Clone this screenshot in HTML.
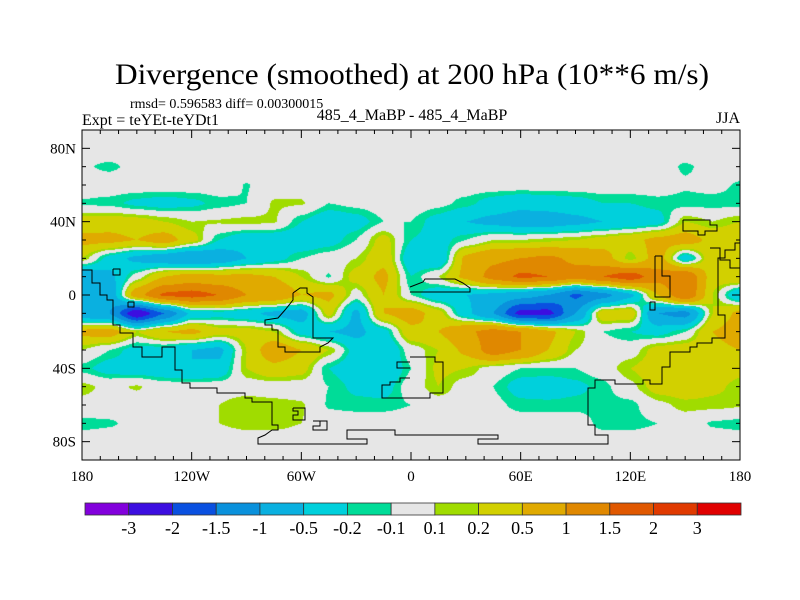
<!DOCTYPE html>
<html><head><meta charset="utf-8">
<style>
html,body{margin:0;padding:0;background:#fff;}
#wrap{position:relative;width:800px;height:600px;overflow:hidden;background:#fff;}
#field{position:absolute;left:82px;top:130px;}
#ov{position:absolute;left:0;top:0;}
text{font-family:"Liberation Serif",serif;fill:#000;}
</style></head>
<body>
<div id="wrap">
<canvas id="field" width="658" height="330"></canvas>
<svg id="ov" width="800" height="600">
<text x="412" y="84" text-anchor="middle" font-size="30" textLength="594" lengthAdjust="spacingAndGlyphs">Divergence (smoothed) at 200 hPa (10**6 m/s)</text>
<text x="130" y="108" font-size="14">rmsd= 0.596583 diff= 0.00300015</text>
<text x="82" y="125" font-size="16">Expt = teYEt-teYDt1</text>
<text x="412" y="120" text-anchor="middle" font-size="16">485_4_MaBP - 485_4_MaBP</text>
<text x="740" y="123" text-anchor="end" font-size="16">JJA</text>
<g id="coast" fill="none" stroke="#000" stroke-width="1"></g>
<g id="axes"></g>
<g id="cbar"></g>
</svg>
</div>
<script>
const lons=[-180,-165,-150,-135,-120,-105,-90,-75,-60,-45,-30,-15,0,15,30,45,60,75,90,105,120,135,150,165,180];
const lats=[90,80,70,60,50,40,30,20,10,0,-10,-20,-30,-40,-50,-60,-70,-80,-90];
const r90=[0,0,0,0,0,0,0,0,0,0,0,0,0,0,0,0,0,0,0,0,0,0,0,0,0];
const r80=[0,0,0,0,0,0,0,0,0,0,0,0,0,0,0,0,0,0,0,0,0,0,0,0,0];
const r70=[-0.08,-0.13,-0.05,0,0,0,0,0,0,0,0,0,0,0,0,0,0,0,0,0,0,-0.03,-0.12,-0.05,0];
const r60=[0,0,0,0,0,0,-0.11,0,0,0,0,0,0,0,0,0,0,0,0,0,0,0,-0.08,-0.05,-0.12];
const r50=[-0.12,-0.15,-0.25,-0.3,-0.25,-0.15,-0.1,0.12,0.12,-0.1,-0.05,0,0,-0.05,-0.15,-0.3,-0.4,-0.35,-0.3,-0.2,-0.2,-0.15,-0.15,-0.15,-0.15];
const r40=[0.3,0.35,0.3,0.2,0.1,0.12,0.15,0.12,-0.2,-0.4,-0.3,-0.1,-0.1,-0.3,-0.5,-0.6,-0.7,-0.7,-0.6,-0.5,-0.4,-0.3,0.2,0.1,0.2];
const r30=[0.6,0.6,0.5,0.7,0.3,-0.2,-0.4,-0.4,-0.4,-0.3,-0.1,0.3,-0.2,-0.3,-0.1,0.1,0.1,0.15,0.2,0.3,0.4,0.6,0.7,0.4,0.5];
const r20=[0.2,-0.3,-0.6,-0.8,-1.0,-0.8,-0.5,-0.3,-0.1,0,0.1,0.4,-0.4,-0.5,0.6,0.9,1.0,1.1,0.9,0.7,0.1,0.7,-0.4,0.4,0.3];
const r10=[-0.8,-0.6,0,0.5,0.7,0.6,0.6,0.5,0.2,-0.12,0.3,0.6,-0.2,0.1,0.6,1.2,1.6,1.5,1.2,1.5,1.8,1.2,1.5,0.3,0.5];
const r0=[-1.0,-0.8,0.8,1.6,1.7,1.5,1.0,0.9,0.5,0.6,0,0.5,-0.1,-0.4,-0.5,-0.6,-0.8,-1.0,-1.6,-1.2,-0.6,0.5,1.5,0.2,-0.5];
const rS10=[-0.8,-1.0,-2.5,-1.5,-0.4,-0.3,-0.4,-0.6,-0.7,0.3,-0.6,0.5,0.7,0.3,-0.4,-1.0,-2.2,-2.2,-1.0,0.4,0.4,-1.0,-1.2,0.2,0.6];
const rS20=[0.6,0.7,0.2,0.5,0.6,0.3,0.3,0.2,-0.3,-0.5,-0.6,-0.3,0.4,0.5,0.9,1.2,1.0,0.6,0.2,-0.1,-0.2,-0.3,-0.1,0.5,0.7];
const rS30=[0.1,-0.1,-0.3,-0.3,-0.5,-0.6,0.2,0.8,0.5,0.2,-0.3,-0.5,0,0.2,0.6,1.3,1.0,0.5,0.1,0,0,0.3,0.35,0.4,0.5];
const rS40=[-0.15,-0.3,-0.35,-0.4,-0.5,-0.4,0.2,0.4,0.3,-0.2,-0.4,-0.5,-0.1,0.25,0.2,0,-0.1,-0.1,-0.1,0,0.2,0.35,0.4,0.35,0.25];
const rS50=[0.15,0.05,0.12,0,0,0,0,0,0,-0.1,-0.25,-0.3,0,0.2,0,-0.1,-0.3,-0.35,-0.25,-0.15,0.05,0.3,0.35,0.25,0.15];
const rS60=[0.05,0,0,0,0,0.1,0.2,0.15,0.12,-0.12,-0.15,-0.15,-0.1,0,0,-0.05,-0.15,-0.15,-0.15,-0.15,-0.15,0.05,0.15,0.15,0.12];
const rS70=[-0.15,-0.12,-0.05,0,0,0.1,0.15,0.15,0.1,0,0,0,0,0,0,0,0,0,0,-0.15,-0.15,-0.1,0,-0.12,-0.15];
const rS80=[0,0,0,0,0,0,0,0,0,0,0,0,0,0,0,0,0,0,0,0,0,0,0,0,0];
const rS90=[0,0,0,0,0,0,0,0,0,0,0,0,0,0,0,0,0,0,0,0,0,0,0,0,0];
const divergence=[r90,r80,r70,r60,r50,r40,r30,r20,r10,r0,rS10,rS20,rS30,rS40,rS50,rS60,rS70,rS80,rS90];
const levels=[-3,-2,-1.5,-1,-0.5,-0.2,-0.1,0.1,0.2,0.5,1,1.5,2,3];
const levelLabels=["-3","-2","-1.5","-1","-0.5","-0.2","-0.1","0.1","0.2","0.5","1","1.5","2","3"];
const colors=["#8200dc","#3c0ee0","#0a50e0","#0a91dc","#0ab0e0","#00d0dc","#00dc98","#e6e6e6","#a0dc00","#d2d000","#e0aa00","#e08800","#e05800","#e03a00","#e00000"];
const lonTicks=[-180,-120,-60,0,60,120,180];
const lonTickLabels=["180","120W","60W","0","60E","120E","180"];
const latTicks=[80,40,0,-40,-80];
const latTickLabels=["80N","40N","0","40S","80S"];

const PX0=82,PX1=740,PY0=130,PY1=460;
const xOf=lon=>PX0+(lon+180)/360*(PX1-PX0);
const yOf=lat=>PY0+(90-lat)/180*(PY1-PY0);
const NS="http://www.w3.org/2000/svg";
function mk(tag,attrs,parent){const e=document.createElementNS(NS,tag);for(const k in attrs)e.setAttribute(k,attrs[k]);parent.appendChild(e);return e;}

(function(){
 const cv=document.getElementById('field');const ctx=cv.getContext('2d');
 const W=cv.width,H=cv.height;const img=ctx.createImageData(W,H);
 const rgb=colors.map(c=>[parseInt(c.substr(1,2),16),parseInt(c.substr(3,2),16),parseInt(c.substr(5,2),16)]);
 const nx=lons.length,ny=lats.length;
 const sm=t=>t*t*(3-2*t);
 for(let py=0;py<H;py++){
  const lat=90-(py+0.5)/H*180;
  let fy=(lats[0]-lat)/(lats[0]-lats[ny-1])*(ny-1);let iy=Math.min(ny-2,Math.floor(fy));let ty=fy-iy;ty=(ty+sm(ty))/2;
  for(let px=0;px<W;px++){
   const lon=-180+(px+0.5)/W*360;
   let fx=(lon-lons[0])/(lons[nx-1]-lons[0])*(nx-1);let ix=Math.min(nx-2,Math.floor(fx));let tx=fx-ix;tx=(tx+sm(tx))/2;
   const a=divergence[iy][ix],b=divergence[iy][ix+1],c=divergence[iy+1][ix],d=divergence[iy+1][ix+1];
   const v=(a*(1-tx)+b*tx)*(1-ty)+(c*(1-tx)+d*tx)*ty;
   let k=0;while(k<levels.length&&v>=levels[k])k++;
   const col=rgb[k];const o=(py*W+px)*4;
   img.data[o]=col[0];img.data[o+1]=col[1];img.data[o+2]=col[2];img.data[o+3]=255;
  }
 }
 ctx.putImageData(img,0,0);
})();

(function(){
 const g=document.getElementById('coast');
 const lines=[
 [[82,270],[92,270],[92,283],[100,283],[100,295],[107,295],[107,300],[113,300],[113,325],[120,325],[120,333],[133,333],[133,347],[142,347],[142,357],[162,357],[162,347],[175,347],[175,370],[182,370],[182,383],[190,383],[190,388],[217,388],[217,393],[245,393],[245,398],[252,398],[252,402],[272,402],[272,425],[278,425],[278,430],[272,430],[265,435],[258,438],[258,444],[367,444],[367,439],[347,439],[347,430],[395,430],[395,435],[498,435],[498,439],[478,439],[478,444],[608,444],[608,435],[595,435],[595,425],[588,425],[588,388],[595,388],[595,380],[615,380],[615,384],[643,384],[643,380],[650,380],[650,384],[662,384],[662,367],[670,367],[670,352],[690,352],[690,347],[697,347],[697,343],[712,343],[712,338],[725,338],[725,315],[718,315],[718,258],[725,258],[725,250],[735,250],[735,243],[740,243]],
 [[293,293],[300,288],[307,288],[307,293],[313,297],[313,300],[313,338],[333,338],[328,343],[320,347],[320,352],[285,352],[285,347],[278,347],[278,330],[272,330],[272,325],[265,325],[265,320],[278,318],[285,310],[293,300],[293,293]],
 [[410,287],[423,282],[425,279],[455,279],[463,283],[470,288],[470,292],[410,292]],
 [[683,220],[710,220],[710,225],[717,225],[717,231],[705,231],[705,235],[698,235],[698,231],[683,231],[683,220]],
 [[655,256],[662,256],[662,276],[670,276],[670,297],[655,297],[655,256]],
 [[650,302],[655,302],[655,310],[650,310],[650,302]],
 [[113,269],[120,269],[120,275],[113,275],[113,269]],
 [[128,302],[134,302],[134,307],[128,307],[128,302]],
 [[293,408],[305,408],[305,420],[293,420],[293,415],[298,415],[298,411],[293,411],[293,408]],
 [[313,421],[327,421],[327,430],[313,430],[313,426],[320,426],[320,421]],
 [[410,362],[397,362],[397,368],[410,368]],
 [[410,378],[400,378],[400,382],[390,382],[390,385],[382,385],[382,398],[410,398]],
 [[410,357],[435,357],[435,362],[443,362],[443,393],[430,393],[430,398],[410,398]],
 [[710,248],[720,248],[720,260],[730,260],[730,268],[740,268]]
 ];
 lines.forEach(l=>{const p=mk('polyline',{points:l.map(q=>q.join(',')).join(' ')},g);
  
  });
})();

(function(){
 const g=document.getElementById('axes');
 const fr=mk('rect',{x:PX0,y:PY0,width:PX1-PX0,height:PY1-PY0,fill:'none',stroke:'#000','stroke-width':1},g);
 
 
 for(let lon=-180;lon<=180;lon+=10){
  const x=xOf(lon);const L=(lon%60===0)?8:4;
  const t1=mk('line',{x1:x,y1:PY1,x2:x,y2:PY1-L,stroke:'#000'},g);
  
  
  const t2=mk('line',{x1:x,y1:PY0,x2:x,y2:PY0+L,stroke:'#000'},g);
  
  
 }
 for(let lat=-90;lat<=90;lat+=10){
  const y=yOf(lat);const L=(lat%40===0)?8:4;
  const t1=mk('line',{x1:PX0,y1:y,x2:PX0+L,y2:y,stroke:'#000'},g);
  
  
  const t2=mk('line',{x1:PX1,y1:y,x2:PX1-L,y2:y,stroke:'#000'},g);
  
  
 }
 lonTicks.forEach((lon,i)=>{
  const t=mk('text',{x:xOf(lon),y:481,'text-anchor':'middle','font-size':15},g);
  t.textContent=lonTickLabels[i];
  
  
 });
 latTicks.forEach((lat,i)=>{
  const t=mk('text',{x:76,y:yOf(lat)+5,'text-anchor':'end','font-size':15},g);
  t.textContent=latTickLabels[i];
  
  
 });
})();

(function(){
 const g=document.getElementById('cbar');
 const X0=85,X1=741,Y0=503,H=12;const w=(X1-X0)/colors.length;
 colors.forEach((c,i)=>{
  const r=mk('rect',{x:X0+i*w,y:Y0,width:w,height:H,fill:c,stroke:'#333','stroke-width':0.8},g);
  
  
 });
 levelLabels.forEach((s,i)=>{
  const t=mk('text',{x:X0+(i+1)*w,y:534,'text-anchor':'middle','font-size':18},g);
  t.textContent=s;
  
  
 });
})();
</script>
</body></html>
